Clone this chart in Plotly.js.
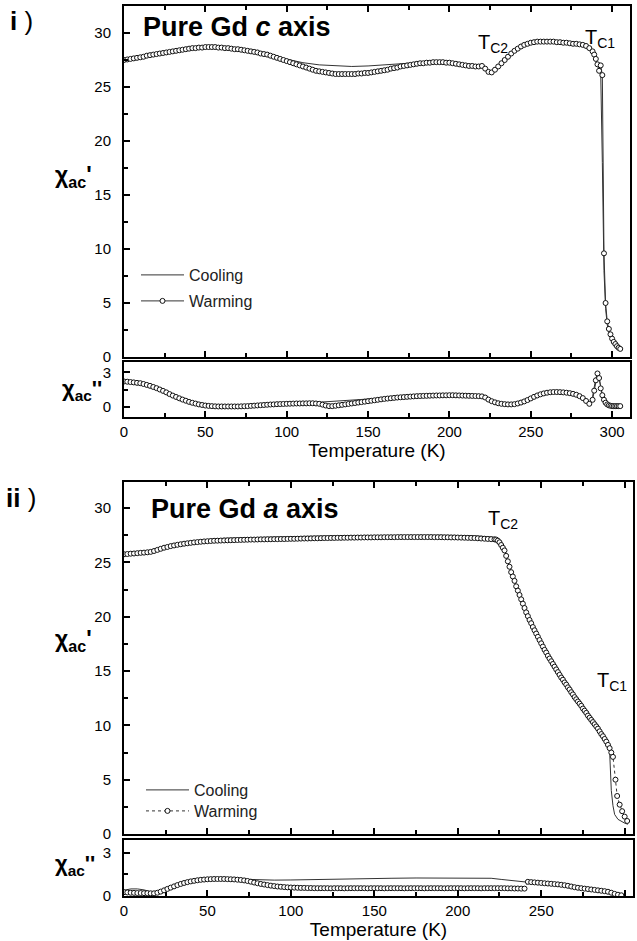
<!DOCTYPE html>
<html>
<head>
<meta charset="utf-8">
<script src="https://cdn.plot.ly/plotly-3.0.1.min.js"></script>
<style>html,body{margin:0;padding:0;background:#fff;}#plot{width:637px;height:941px;}</style>
</head>
<body>
<div id="plot"></div>
<script>
// ---------------- DATA ----------------
// Panel i : Pure Gd, c axis
const T_i_warm = [
0,2,4,6,8,10,12,14,16,18,
20,22,24,26,28,30,32,34,36,38,
40,42,44,46,48,50,52,54,56,58,
60,62,64,66,68,70,72,74,76,78,
80,82,84,86,88,90,92,94,96,98,
100,102,104,106,108,110,112,114,116,118,
120,122,124,126,128,130,132,134,136,138,
140,142,144,146,148,150,152,154,156,158,
160,162,164,166,168,170,172,174,176,178,
180,182,184,186,188,190,192,194,196,198,
200,202,204,206,208,210,212,214,216,218,
220,222,224,226,228,230,232,234,236,238,
240,242,244,246,248,250,252,254,256,258,
260,262,264,266,268,270,272,274,276,278,
280,282,284,286,288,
289,290,291,292,293,294,295,296,297,298,299,300,301,302,303,304,305];
const chiR_i_warm = [
27.5,27.55,27.6,27.65,27.7,27.75,27.8,27.9,27.95,28.0,
28.05,28.1,28.15,28.2,28.25,28.3,28.35,28.4,28.45,28.5,
28.55,28.6,28.6,28.65,28.65,28.7,28.7,28.7,28.7,28.65,
28.65,28.6,28.6,28.55,28.5,28.5,28.45,28.4,28.35,28.3,
28.25,28.2,28.1,28.05,28.0,27.9,27.8,27.7,27.6,27.5,
27.4,27.3,27.2,27.1,27.0,26.9,26.8,26.7,26.6,26.5,
26.45,26.4,26.35,26.3,26.25,26.2,26.2,26.2,26.2,26.2,
26.2,26.2,26.25,26.25,26.3,26.3,26.35,26.4,26.45,26.5,
26.55,26.6,26.7,26.75,26.8,26.9,26.95,27.0,27.05,27.1,
27.15,27.2,27.2,27.25,27.25,27.3,27.3,27.3,27.3,27.25,
27.25,27.2,27.15,27.1,27.05,27.0,26.95,26.95,26.9,26.9,
26.95,26.7,26.4,26.35,26.6,26.9,27.2,27.5,27.8,28.1,
28.35,28.55,28.75,28.9,29.0,29.1,29.15,29.2,29.2,29.2,
29.2,29.2,29.2,29.15,29.15,29.1,29.1,29.05,29.0,29.0,
28.95,28.9,28.8,28.6,28.3,
28.0,27.6,27.1,26.5,27.0,26.1,9.6,5.0,3.3,2.6,2.1,1.7,1.4,1.2,1.0,0.85,0.75];
const chiI_i_warm = [
2.2,2.18,2.15,2.12,2.08,2.05,1.98,1.9,1.82,1.72,
1.62,1.5,1.38,1.25,1.1,0.97,0.85,0.73,0.62,0.52,
0.42,0.34,0.27,0.2,0.15,0.1,0.07,0.05,0.03,0.02,
0.02,0.02,0.02,0.02,0.02,0.02,0.03,0.04,0.05,0.07,
0.09,0.11,0.13,0.15,0.17,0.19,0.2,0.22,0.23,0.24,
0.25,0.26,0.27,0.28,0.28,0.29,0.29,0.3,0.3,0.28,
0.25,0.18,0.1,0.05,0.05,0.08,0.12,0.16,0.2,0.24,
0.28,0.32,0.36,0.4,0.44,0.48,0.52,0.56,0.6,0.64,
0.68,0.71,0.74,0.77,0.8,0.82,0.84,0.86,0.88,0.9,
0.92,0.93,0.94,0.95,0.96,0.97,0.98,0.98,0.99,0.99,
1.0,1.0,0.99,0.98,0.97,0.96,0.95,0.94,0.93,0.92,
0.9,0.8,0.62,0.48,0.38,0.3,0.25,0.22,0.2,0.2,
0.22,0.28,0.36,0.46,0.58,0.72,0.86,0.98,1.08,1.16,
1.22,1.26,1.28,1.28,1.27,1.25,1.22,1.18,1.12,1.04,
0.92,0.75,0.5,0.25,0.6,
1.4,2.3,2.9,2.5,1.6,1.0,0.6,0.35,0.2,0.12,0.08,0.06,0.05,0.05,0.05,0.05,0.05];

const T_i_coolR = [0,10,20,30,40,50,60,70,80,90,100,110,120,130,140,150,160,170,180,190,
200,210,216,220,222,224,226,228,232,236,240,245,250,255,260,270,280,285,288,290,
292,293,294,295,296,297,298,300,302,304];
const chiR_i_cool = [27.5,27.75,28.05,28.3,28.55,28.7,28.65,28.5,28.25,27.9,27.55,27.25,27.05,26.95,26.9,26.95,27.05,27.2,27.3,27.35,
27.3,27.1,27.0,27.0,26.8,26.5,26.45,26.65,27.2,27.8,28.35,28.85,29.1,29.2,29.25,29.15,28.95,28.75,28.3,27.6,
26.8,26.3,18,8,4.5,3.0,2.3,1.6,1.1,0.8];
const T_i_coolI = [0,10,20,30,40,50,60,70,80,90,100,110,120,130,140,150,160,170,180,190,
200,210,220,224,228,232,238,244,250,256,262,268,274,280,284,286,288,290,291,292,
294,296,298,300,304];
const chiI_i_cool = [2.2,2.05,1.62,0.97,0.42,0.1,0.02,0.02,0.09,0.19,0.25,0.3,0.4,0.52,0.62,0.7,0.76,0.84,0.92,0.97,
1.0,0.97,0.92,0.7,0.42,0.27,0.2,0.36,0.72,1.08,1.26,1.27,1.18,0.92,0.5,0.3,0.9,2.5,2.85,2.5,
1.0,0.35,0.12,0.06,0.05];

// Panel ii : Pure Gd, a axis
const T_ii_warmR = [
0,2,4,6,8,10,12,14,16,18,
20,22,24,26,28,30,32,34,36,38,
40,42,44,46,48,50,52,54,56,58,
60,62,64,66,68,70,72,74,76,78,
80,82,84,86,88,90,92,94,96,98,
100,102,104,106,108,110,112,114,116,118,
120,122,124,126,128,130,132,134,136,138,
140,142,144,146,148,150,152,154,156,158,
160,162,164,166,168,170,172,174,176,178,
180,182,184,186,188,190,192,194,196,198,
200,202,204,206,208,210,212,214,216,218,
220,222,
223,224,225,226,227,228,229,230,231,232,
233,234,235,236,237,238,239,240,241,242,
243,244,245,246,247,248,249,250,251,252,
253,254,255,256,257,258,259,260,261,262,
263,264,265,266,267,268,269,270,271,272,
273,274,275,276,277,278,279,280,281,282,
283,284,285,286,287,288,289,290,291,292,
293,294.5,295.5,297,298.5,300,301.5];
const chiR_ii_warm = [
25.75,25.77,25.8,25.82,25.85,25.88,25.9,25.93,25.97,26.05,
26.15,26.25,26.35,26.42,26.5,26.56,26.62,26.67,26.72,26.76,
26.8,26.84,26.87,26.9,26.93,26.95,26.97,26.99,27.0,27.01,
27.02,27.03,27.04,27.05,27.06,27.07,27.08,27.09,27.1,27.1,
27.11,27.12,27.12,27.13,27.13,27.14,27.14,27.15,27.15,27.16,
27.17,27.17,27.18,27.19,27.2,27.2,27.21,27.22,27.22,27.23,
27.24,27.24,27.25,27.25,27.26,27.26,27.27,27.27,27.28,27.28,
27.29,27.29,27.3,27.3,27.3,27.31,27.31,27.31,27.32,27.32,
27.32,27.32,27.33,27.33,27.33,27.33,27.33,27.33,27.33,27.33,
27.33,27.33,27.33,27.32,27.32,27.32,27.31,27.31,27.3,27.3,
27.29,27.28,27.27,27.26,27.25,27.24,27.22,27.2,27.18,27.16,
27.14,27.12,
27.1,27.0,26.85,26.6,26.35,26.1,25.6,25.1,24.6,24.1,
23.7,23.3,22.8,22.4,22.0,21.6,21.2,20.8,20.4,20.05,
19.7,19.4,19.05,18.75,18.45,18.15,17.85,17.55,17.25,16.95,
16.7,16.4,16.15,15.9,15.65,15.4,15.15,14.9,14.65,14.4,
14.2,13.95,13.75,13.5,13.3,13.05,12.85,12.6,12.4,12.2,
12.0,11.8,11.55,11.35,11.15,10.9,10.7,10.5,10.3,10.1,
9.9,9.7,9.45,9.2,9.0,8.75,8.5,8.2,7.9,7.5,
7.1,5.0,3.5,2.7,2.1,1.6,1.2];
const T_ii_warmI = [
0,2,4,6,8,10,12,14,16,18,
20,22,24,26,28,30,32,34,36,38,
40,42,44,46,48,50,52,54,56,58,
60,62,64,66,68,70,72,74,76,78,
80,82,84,86,88,90,92,94,96,98,
100,102,104,106,108,110,112,114,116,118,
120,122,124,126,128,130,132,134,136,138,
140,142,144,146,148,150,152,154,156,158,
160,162,164,166,168,170,172,174,176,178,
180,182,184,186,188,190,192,194,196,198,
200,202,204,206,208,210,212,214,216,218,
220,222,224,226,228,230,232,234,236,238,
240,242,244,246,248,250,252,254,256,258,
260,262,264,266,268,270,272,274,276,278,
280,282,284,286,288,290,292,294,296,298];
const chiI_ii_warm = [
0.22,0.2,0.18,0.17,0.16,0.16,0.15,0.15,0.14,0.14,
0.18,0.26,0.35,0.45,0.54,0.63,0.72,0.8,0.87,0.93,
0.98,1.02,1.06,1.09,1.11,1.13,1.14,1.15,1.15,1.15,
1.15,1.14,1.13,1.12,1.1,1.08,1.05,1.01,0.96,0.9,
0.85,0.8,0.76,0.72,0.68,0.65,0.62,0.6,0.58,0.56,
0.55,0.54,0.53,0.52,0.52,0.51,0.51,0.5,0.5,0.5,
0.5,0.5,0.49,0.5,0.5,0.5,0.49,0.5,0.5,0.5,
0.5,0.5,0.5,0.49,0.5,0.5,0.5,0.5,0.49,0.5,
0.5,0.5,0.5,0.5,0.49,0.5,0.5,0.5,0.5,0.5,
0.49,0.5,0.5,0.5,0.5,0.5,0.49,0.5,0.5,0.5,
0.5,0.5,0.49,0.5,0.5,0.5,0.5,0.49,0.5,0.5,
0.5,0.5,0.5,0.5,0.5,0.49,0.49,0.48,0.48,0.47,
0.47,0.95,0.93,0.91,0.89,0.87,0.85,0.83,0.81,0.79,
0.77,0.74,0.71,0.67,0.62,0.57,0.53,0.5,0.47,0.44,
0.41,0.38,0.35,0.32,0.29,0.25,0.18,0.1,0.04,0.0];

const T_ii_coolR = [0,10,18,25,35,50,60,80,100,130,160,190,210,220,223,225,228,232,236,242,
248,254,262,270,278,286,290,291,291.5,292,293,294,296,298,300,302];
const chiR_ii_cool = [25.8,25.92,26.1,26.45,26.8,27.1,27.22,27.32,27.37,27.45,27.5,27.5,27.45,27.38,27.3,27.0,26.1,24.1,22.4,20.05,
18.15,16.4,14.4,12.6,10.9,9.2,8.2,7.6,6.0,4.0,2.6,1.8,1.35,1.15,1.0,0.9];
const T_ii_coolI = [0,4,8,12,16,20,24,30,40,50,60,70,80,90,100,115,130,145,160,175,
190,205,220,226,234,240,250,262,270,280,290,294,296,300];
const chiI_ii_cool = [0.35,0.45,0.45,0.38,0.25,0.18,0.35,0.65,1.0,1.15,1.17,1.13,1.08,1.07,1.08,1.12,1.15,1.18,1.2,1.22,
1.22,1.21,1.2,1.12,1.02,0.96,0.86,0.72,0.6,0.45,0.28,0.12,0.04,0.0];

const seriesNames = ['Cooling', 'Warming'];

// ---------------- PLOT ----------------
const W = 637, H = 941;
const X = px => px / W;
const Y = py => 1 - py / H;
const FONT = 'Liberation Sans, Arial, Helvetica, sans-serif';

const coolLine = {color: '#333', width: 1};
const warmMarker = {symbol: 'circle', size: 5, color: '#fff', line: {color: '#111', width: 1}};

const traces = [
  {x: T_i_coolR, y: chiR_i_cool, xaxis: 'x', yaxis: 'y', mode: 'lines', name: seriesNames[0],
   line: coolLine, legend: 'legend'},
  {x: T_i_warm, y: chiR_i_warm, xaxis: 'x', yaxis: 'y', mode: 'lines+markers', name: seriesNames[1],
   line: {color: '#333', width: 1}, marker: warmMarker, legend: 'legend2'},
  {x: T_i_coolI, y: chiI_i_cool, xaxis: 'x2', yaxis: 'y2', mode: 'lines', showlegend: false, line: coolLine},
  {x: T_i_warm, y: chiI_i_warm, xaxis: 'x2', yaxis: 'y2', mode: 'lines+markers', showlegend: false,
   line: {color: '#333', width: 1}, marker: warmMarker},
  {x: T_ii_coolR, y: chiR_ii_cool, xaxis: 'x3', yaxis: 'y3', mode: 'lines', name: seriesNames[0],
   line: coolLine, legend: 'legend3'},
  {x: T_ii_warmR, y: chiR_ii_warm, xaxis: 'x3', yaxis: 'y3', mode: 'lines+markers', name: seriesNames[1],
   line: {color: '#333', width: 1, dash: 'dot'}, marker: warmMarker, legend: 'legend4'},
  {x: T_ii_coolI, y: chiI_ii_cool, xaxis: 'x4', yaxis: 'y4', mode: 'lines', showlegend: false, line: coolLine},
  {x: T_ii_warmI, y: chiI_ii_warm, xaxis: 'x4', yaxis: 'y4', mode: 'lines+markers', showlegend: false,
   line: {color: '#333', width: 1, dash: 'dot'}, marker: warmMarker}
];

function xAx(domain, range, anchor, labels, mirror) {
  const a = {
    domain: domain, range: range, anchor: anchor, showgrid: false, zeroline: false,
    showline: true, linewidth: 2, linecolor: '#000', mirror: mirror,
    ticks: 'inside', ticklen: 6, tickwidth: 2, tickcolor: '#000', dtick: 50, tick0: 0,
    minor: {ticks: 'inside', ticklen: 4, tickwidth: 2, tickcolor: '#000', dtick: 25},
    showticklabels: labels, tickfont: {family: FONT, size: 15, color: '#000'},
    automargin: false, fixedrange: true
  };
  if (labels) a.title = {text: 'Temperature (K)', font: {family: FONT, size: 19, color: '#000'}, standoff: 1};
  return a;
}
function yAx(domain, range, anchor, dtick, mdtick) {
  return {
    domain: domain, range: range, anchor: anchor, showgrid: false, zeroline: false,
    showline: true, linewidth: 2, linecolor: '#000', mirror: true,
    ticks: 'inside', ticklen: 6, tickwidth: 2, tickcolor: '#000', dtick: dtick, tick0: 0,
    minor: {ticks: 'inside', ticklen: 4, tickwidth: 2, tickcolor: '#000', dtick: mdtick},
    tickfont: {family: FONT, size: 15, color: '#000'}, ticklabelstandoff: 8,
    automargin: false, fixedrange: true
  };
}
function leg(xp, yp) {
  return {x: X(xp), y: Y(yp), xanchor: 'left', yanchor: 'middle', bgcolor: 'rgba(0,0,0,0)',
          font: {family: FONT, size: 16, color: '#222'}, itemwidth: 43};
}

const dxI = [X(124), X(630)], dxII = [X(124), X(633)];
const layout = {
  width: W, height: H, margin: {l: 0, r: 0, t: 0, b: 0},
  paper_bgcolor: '#fff', plot_bgcolor: 'rgba(0,0,0,0)',
  font: {family: FONT, color: '#000'},
  xaxis: xAx(dxI, [0, 311], 'y', false, 'ticks'),
  yaxis: yAx([Y(357), Y(6)], [0, 32.5], 'x', 5, 2.5),
  xaxis2: xAx(dxI, [0, 311], 'y2', true, true),
  yaxis2: yAx([Y(417), Y(362)], [-0.9, 3.9], 'x2', 3, 1.5),
  xaxis3: xAx(dxII, [0, 305], 'y3', false, 'ticks'),
  yaxis3: yAx([Y(834), Y(482)], [0, 32.4], 'x3', 5, 2.5),
  xaxis4: xAx(dxII, [0, 305], 'y4', true, true),
  yaxis4: yAx([Y(896), Y(840)], [-0.05, 3.9], 'x4', 3, 1.5),
  legend: leg(136, 275),
  legend2: leg(136, 301),
  legend3: leg(141, 790),
  legend4: leg(141, 811),
  annotations: [
    {text: '<b>i</b> )', x: X(8), y: Y(21), xanchor: 'left', yanchor: 'middle', font: {size: 26}},
    {text: '<b>ii</b> )', x: X(4), y: Y(498), xanchor: 'left', yanchor: 'middle', font: {size: 26}},
    {text: '<b>Pure Gd <i>c</i> axis</b>', x: X(141), y: Y(27), xanchor: 'left', yanchor: 'middle', font: {size: 27}},
    {text: '<b>Pure Gd <i>a</i> axis</b>', x: X(149), y: Y(509), xanchor: 'left', yanchor: 'middle', font: {size: 27}},
    {text: 'T<sub>C2</sub>', x: X(476), y: Y(43), xanchor: 'left', yanchor: 'middle', font: {size: 20}},
    {text: 'T<sub>C1</sub>', x: X(583), y: Y(38), xanchor: 'left', yanchor: 'middle', font: {size: 20}},
    {text: 'T<sub>C2</sub>', x: X(486), y: Y(519), xanchor: 'left', yanchor: 'middle', font: {size: 20}},
    {text: 'T<sub>C1</sub>', x: X(595), y: Y(681), xanchor: 'left', yanchor: 'middle', font: {size: 20}},
    {text: "<b>χ<sub>ac</sub>'</b>", x: X(53), y: Y(176), xanchor: 'left', yanchor: 'middle', font: {size: 23}},
    {text: "<b>χ<sub>ac</sub>''</b>", x: X(60), y: Y(390), xanchor: 'left', yanchor: 'middle', font: {size: 22}},
    {text: "<b>χ<sub>ac</sub>'</b>", x: X(53), y: Y(640), xanchor: 'left', yanchor: 'middle', font: {size: 23}},
    {text: "<b>χ<sub>ac</sub>''</b>", x: X(53), y: Y(865), xanchor: 'left', yanchor: 'middle', font: {size: 22}}
  ].map(a => Object.assign({xref: 'paper', yref: 'paper', showarrow: false}, a, {font: Object.assign({family: FONT, color: '#000'}, a.font)}))
};

Plotly.newPlot('plot', traces, layout, {staticPlot: true, displayModeBar: false});
</script>
</body>
</html>
